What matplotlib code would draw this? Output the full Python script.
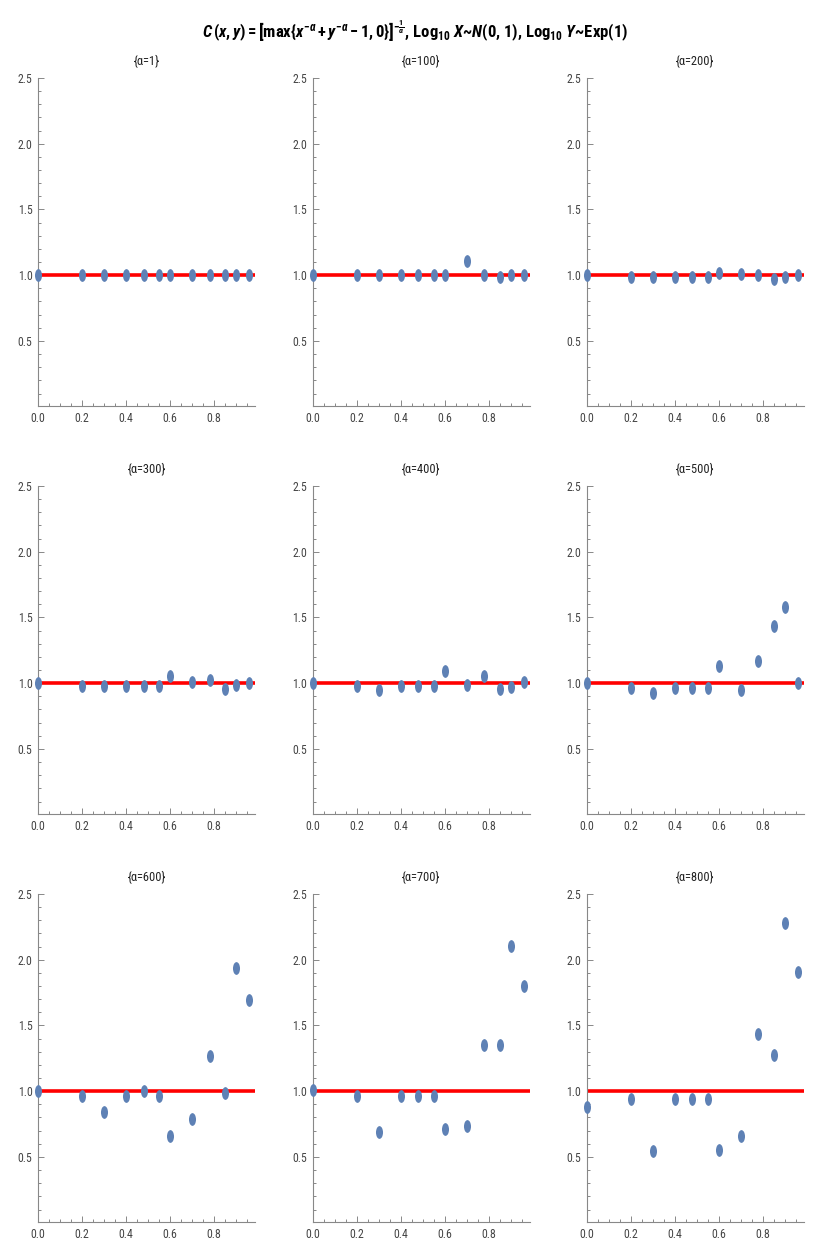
import numpy as np
import matplotlib
matplotlib.use("Agg")
import matplotlib.pyplot as plt
from matplotlib import font_manager
from matplotlib.path import Path
from matplotlib.transforms import Affine2D
from matplotlib.ticker import FixedLocator

available = {f.name for f in font_manager.fontManager.ttflist}
narrow_candidates = ['Liberation Sans Narrow', 'Roboto Condensed', 'Open Sans Condensed',
                     'DejaVu Sans Condensed', 'Noto Sans Condensed', 'Liberation Sans']
narrow = next((f for f in narrow_candidates if f in available), 'DejaVu Sans')

plt.rcParams['font.family'] = [narrow, 'Liberation Sans', 'DejaVu Sans']
plt.rcParams['mathtext.fontset'] = 'custom'
plt.rcParams['mathtext.it'] = narrow + ':italic:bold'
plt.rcParams['mathtext.rm'] = narrow + ':bold'
plt.rcParams['mathtext.bf'] = narrow + ':bold'
plt.rcParams['mathtext.sf'] = narrow + ':bold'

# ---- data ----
x_vals = [0.0, 0.2, 0.3, 0.4, 0.48, 0.55, 0.6, 0.7, 0.78, 0.85, 0.9, 0.96]
alphas = [1, 100, 200, 300, 400, 500, 600, 700, 800]
c_a1   = [1.0, 1.0, 1.0, 1.0, 1.0, 1.0, 1.0, 1.0, 1.0, 1.0, 1.0, 1.0]
c_a100 = [1.0, 1.0, 1.0, 1.0, 1.0, 1.0, 1.0, 1.11, 1.0, 0.99, 1.0, 1.0]
c_a200 = [1.0, 0.987, 0.99, 0.987, 0.987, 0.987, 1.013, 1.01, 1.0, 0.97, 0.99, 1.0]
c_a300 = [1.0, 0.98, 0.975, 0.98, 0.98, 0.98, 1.056, 1.01, 1.023, 0.955, 0.985, 1.0]
c_a400 = [1.0, 0.975, 0.947, 0.975, 0.975, 0.975, 1.09, 0.99, 1.053, 0.955, 0.972, 1.008]
c_a500 = [1.0, 0.965, 0.929, 0.965, 0.965, 0.965, 1.13, 0.95, 1.17, 1.436, 1.578, 1.0]
c_a600 = [1.0, 0.965, 0.843, 0.965, 1.0, 0.965, 0.66, 0.787, 1.266, 0.987, 1.935, 1.695]
c_a700 = [1.01, 0.965, 0.693, 0.965, 0.965, 0.965, 0.711, 0.734, 1.352, 1.352, 2.103, 1.798]
c_a800 = [0.883, 0.944, 0.546, 0.944, 0.944, 0.944, 0.549, 0.66, 1.436, 1.279, 2.28, 1.91]
series = [c_a1, c_a100, c_a200, c_a300, c_a400, c_a500, c_a600, c_a700, c_a800]
ref_level = 1.0

title = (r"$C\,(x,y)=\left[\max\{x^{-\alpha}+y^{-\alpha}-1,0\}\right]^{-\frac{1}{\alpha}}$"
         r", Log$_{10}$ $X$~$N$(0, 1), Log$_{10}$ $Y$~Exp(1)")

# ellipse marker (taller than wide)
circ = Path.unit_circle()
ell = Path(Affine2D().scale(0.55, 1.0).transform(circ.vertices), circ.codes)

W, H = 830, 1246
fig = plt.figure(figsize=(W / 100, H / 100), dpi=100)

col_left = [38, 312.5, 586.5]
row_top = [78, 486, 894]
ax_w, ax_h = 217, 328

axis_col = '#888888'
label_col = '#444444'
is_narrow = narrow != 'Liberation Sans'

for i, (a, ys) in enumerate(zip(alphas, series)):
    r, c = divmod(i, 3)
    left = col_left[c] / W
    bottom = 1 - (row_top[r] + ax_h) / H
    ax = fig.add_axes([left, bottom, ax_w / W, ax_h / H])
    ax.set_xlim(0, 0.985)
    ax.set_ylim(0.005, 2.5)
    ax.axhline(ref_level, color='#ff0000', lw=2.6, zorder=2)
    ax.plot(x_vals, ys, linestyle='none', marker=ell, markersize=9.2,
            color='#5e81b5', markeredgewidth=0, zorder=3, clip_on=False)
    for s in ['top', 'right']:
        ax.spines[s].set_visible(False)
    for s in ['left', 'bottom']:
        ax.spines[s].set_color(axis_col)
        ax.spines[s].set_linewidth(0.8)
    ax.set_xticks([0.0, 0.2, 0.4, 0.6, 0.8])
    ax.set_xticklabels(['0.0', '0.2', '0.4', '0.6', '0.8'])
    ax.xaxis.set_minor_locator(FixedLocator([k * 0.05 for k in range(1, 20) if k % 4 != 0]))
    ax.set_yticks([0.5, 1.0, 1.5, 2.0, 2.5])
    ax.set_yticklabels(['0.5', '1.0', '1.5', '2.0', '2.5'])
    ax.yaxis.set_minor_locator(FixedLocator([k * 0.1 for k in range(1, 25) if k % 5 != 0]))
    ax.tick_params(which='both', direction='in', color=axis_col, width=0.7,
                   labelcolor=label_col, labelsize=8.5 if is_narrow else 7.5)
    ax.tick_params(which='major', length=4, pad=4)
    ax.tick_params(which='minor', length=2.5)
    ax.set_title('{α=%d}' % a, fontsize=9 if is_narrow else 8, color='#222222', pad=9)

fig.text(0.5, 1 - 31 / H, title, ha='center', va='center', fontweight='bold',
         fontsize=12 if is_narrow else 10, color='black')

fig.savefig('out.png', dpi=100)
